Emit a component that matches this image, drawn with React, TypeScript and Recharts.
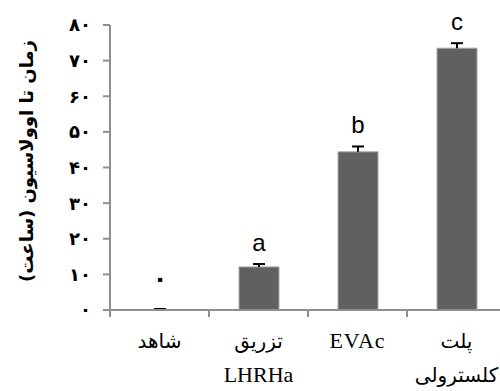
import React from "react";
import { Bar, BarChart, LabelList, XAxis, YAxis } from "recharts";

// groups along the x axis, split into the lines they are printed on
const categoryLines = [["شاهد"], ["تزریق", "LHRHa"], ["EVAc"], ["پلت", "کلسترولی"]];
// mean time to ovulation (hours) and its standard error
const meanHours = [0, 12.1, 44.4, 73.5];
const stdErr = [0, 0.8, 1.5, 1.4];
// significance letters above each bar
const groupLetters = ["۰", "a", "b", "c"];

const yTicks = [0, 10, 20, 30, 40, 50, 60, 70, 80];
const yTickLabels = ["۰", "۱۰", "۲۰", "۳۰", "۴۰", "۵۰", "۶۰", "۷۰", "۸۰"];

const names = categoryLines.map((lines) => lines.join(" "));
const data = names.map((name, i) => ({
  name,
  value: meanHours[i],
  err: stdErr[i],
}));

const AXIS = "#8f8f8f";
const HEIGHT = 391;

const XTick = (props: any) => {
  const { x, y, payload, index } = props;
  const half = payload.offset ?? 0;
  const lines = categoryLines[index] || [];
  return (
    <g>
      <line x1={x - half} x2={x - half} y1={y} y2={y + 7} stroke={AXIS} strokeWidth={2} />
      {index === categoryLines.length - 1 && (
        <line x1={x + half} x2={x + half} y1={y} y2={y + 7} stroke={AXIS} strokeWidth={2} />
      )}
      {lines.map((line, i) => {
        const latin = /[A-Za-z]/.test(line);
        return (
          <text
            key={i}
            x={x}
            y={y + 38 + i * 34}
            textAnchor="middle"
            fontFamily="'Liberation Serif', 'DejaVu Sans', serif"
            fontSize={latin ? 22 : 20}
            letterSpacing={line === "EVAc" ? 1 : 0}
            fill="#000"
          >
            {line}
          </text>
        );
      })}
    </g>
  );
};

// upper half of the error bar: a stem with a cap, stacked on top of the mean
const ErrorCap = (props: any) => {
  const { x, y, width, height } = props;
  const cx = x + width / 2;
  return (
    <g>
      <line x1={cx} x2={cx} y1={y} y2={y + height} stroke="#000" strokeWidth={2} />
      <line x1={cx - 6} x2={cx + 6} y1={y} y2={y} stroke="#000" strokeWidth={2} />
    </g>
  );
};

const LetterLabel = (props: any) => {
  const { x, y, width, value } = props;
  const i = names.indexOf(value);
  if (i < 0) return null;
  const zero = meanHours[i] === 0;
  return (
    <text
      x={x + width / 2}
      y={y - (zero ? 22 : 13)}
      textAnchor="middle"
      fontFamily="'Liberation Sans', 'DejaVu Sans', sans-serif"
      fontSize={24}
      fontWeight={zero ? "bold" : "normal"}
      fill="#000"
    >
      {groupLetters[i]}
    </text>
  );
};

const YTitle = () => (
  <text
    x={26}
    y={161}
    transform="rotate(-90 26 161)"
    textAnchor="middle"
    dominantBaseline="central"
    fontFamily="'DejaVu Sans', sans-serif"
    fontWeight="bold"
    fontSize={18}
    fill="#000"
  >
    زمان تا اوولاسیون (ساعت)
  </text>
);

export default function App() {
  return (
    <div style={{ position: "absolute", left: 0, top: 0, width: 500, height: HEIGHT, overflow: "hidden", background: "#fff" }}>
      <BarChart
        width={506}
        height={HEIGHT}
        data={data}
        margin={{ top: 25, right: 0, bottom: 0, left: 0 }}
        barCategoryGap={0}
      >
        <XAxis
          dataKey="name"
          height={81}
          axisLine={{ stroke: AXIS, strokeWidth: 2 }}
          tickLine={false}
          tickSize={0}
          tickMargin={0}
          interval={0}
          tick={<XTick />}
        />
        <YAxis
          width={110}
          domain={[0, 80]}
          ticks={yTicks}
          interval={0}
          axisLine={{ stroke: AXIS, strokeWidth: 2 }}
          tickLine={{ stroke: AXIS, strokeWidth: 2 }}
          tickSize={7}
          tickMargin={12}
          tickFormatter={(v: number) => yTickLabels[yTicks.indexOf(v)]}
          tick={{ fontFamily: "'DejaVu Sans', sans-serif", fontWeight: "bold", fontSize: 18, fill: "#000" }}
          label={<YTitle />}
        />
        <Bar dataKey="value" stackId="s" fill="#606060" stroke="#a8a8a8" strokeWidth={1} barSize={40} isAnimationActive={false} />
        <Bar dataKey="err" stackId="s" barSize={40} minPointSize={1} shape={<ErrorCap />} isAnimationActive={false}>
          <LabelList dataKey="name" content={<LetterLabel />} />
        </Bar>
      </BarChart>
    </div>
  );
}
